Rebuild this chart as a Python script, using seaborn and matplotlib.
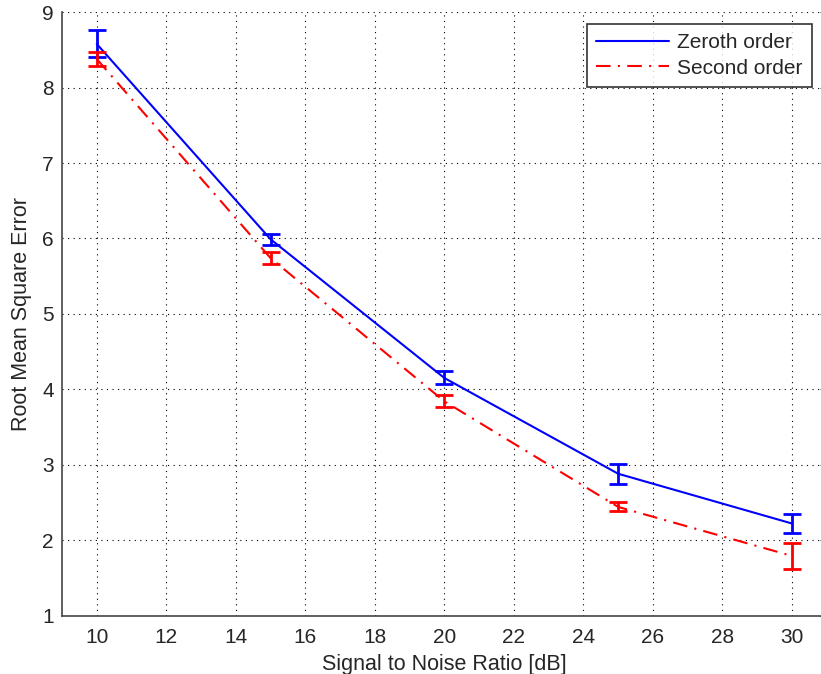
import matplotlib
matplotlib.use("Agg")
import matplotlib.pyplot as plt
from matplotlib.ticker import MultipleLocator
import seaborn as sns
import pandas as pd
import numpy as np

snr = [10, 15, 20, 25, 30]
zeroth_mean = [8.58, 5.99, 4.15, 2.88, 2.22]
zeroth_low = [8.41, 5.92, 4.07, 2.75, 2.09]
zeroth_high = [8.76, 6.06, 4.24, 3.01, 2.35]
second_mean = [8.38, 5.74, 3.84, 2.44, 1.79]
second_low = [8.29, 5.66, 3.76, 2.39, 1.62]
second_high = [8.47, 5.82, 3.92, 2.50, 1.96]

sns.set_style("white")
plt.rcParams['font.family'] = ['Liberation Sans', 'DejaVu Sans']

fig = plt.figure(figsize=(8.21, 6.74), dpi=100)
ax = fig.add_axes([62/821, 1 - 615.5/674, (826.75 - 62)/821, (615.5 - 12.3)/674])

df = pd.DataFrame({
    "snr": snr * 2,
    "rmse": zeroth_mean + second_mean,
    "series": ["Zeroth order"] * 5 + ["Second order"] * 5,
})

palette = {"Zeroth order": "#0000ff", "Second order": "#ff0000"}
sns.lineplot(data=df, x="snr", y="rmse", hue="series", style="series",
             palette=palette, dashes={"Zeroth order": "", "Second order": (7, 3.5, 1, 3.5)},
             linewidth=1.5, ax=ax, legend=True)

for mean, lo, hi, col in [(zeroth_mean, zeroth_low, zeroth_high, "#0000ff"),
                          (second_mean, second_low, second_high, "#ff0000")]:
    m = np.array(mean); l = np.array(lo); h = np.array(hi)
    ax.errorbar(snr, m, yerr=[m - l, h - m], fmt="none", ecolor=col,
                elinewidth=2, capsize=6.5, capthick=2)

ax.set_xlim(9, 31)
ax.set_ylim(1, 9)
ax.xaxis.set_major_locator(MultipleLocator(2))
ax.yaxis.set_major_locator(MultipleLocator(1))
ax.tick_params(which="major", direction="in", top=False, right=True, length=5,
               color="#444444", labelsize=15)
ax.tick_params(axis="x", pad=9)
ax.tick_params(axis="y", pad=6)
ax.grid(True, which="major", color="black", linestyle=(0, (1, 4)), linewidth=0.8)
ax.spines["top"].set_visible(False)
for s in ["left", "bottom", "right"]:
    ax.spines[s].set_color("#444444")
    ax.spines[s].set_linewidth(1.2)

ax.set_xlabel("Signal to Noise Ratio [dB]", fontsize=15.5, labelpad=5)
ax.set_ylabel("Root Mean Square Error", fontsize=15.5, labelpad=7)

handles, labels = ax.get_legend_handles_labels()
ax.get_legend().remove()
leg = fig.legend(handles[:2], labels[:2], loc="upper right",
                 bbox_to_anchor=(812/821, 1 - 24/674), fontsize=15,
                 frameon=True, fancybox=False, edgecolor="black",
                 handlelength=3.5, handletextpad=0.4, borderpad=0.45,
                 labelspacing=0.3, borderaxespad=0)
leg.get_frame().set_linewidth(1.2)

fig.savefig("out.png", dpi=100)
